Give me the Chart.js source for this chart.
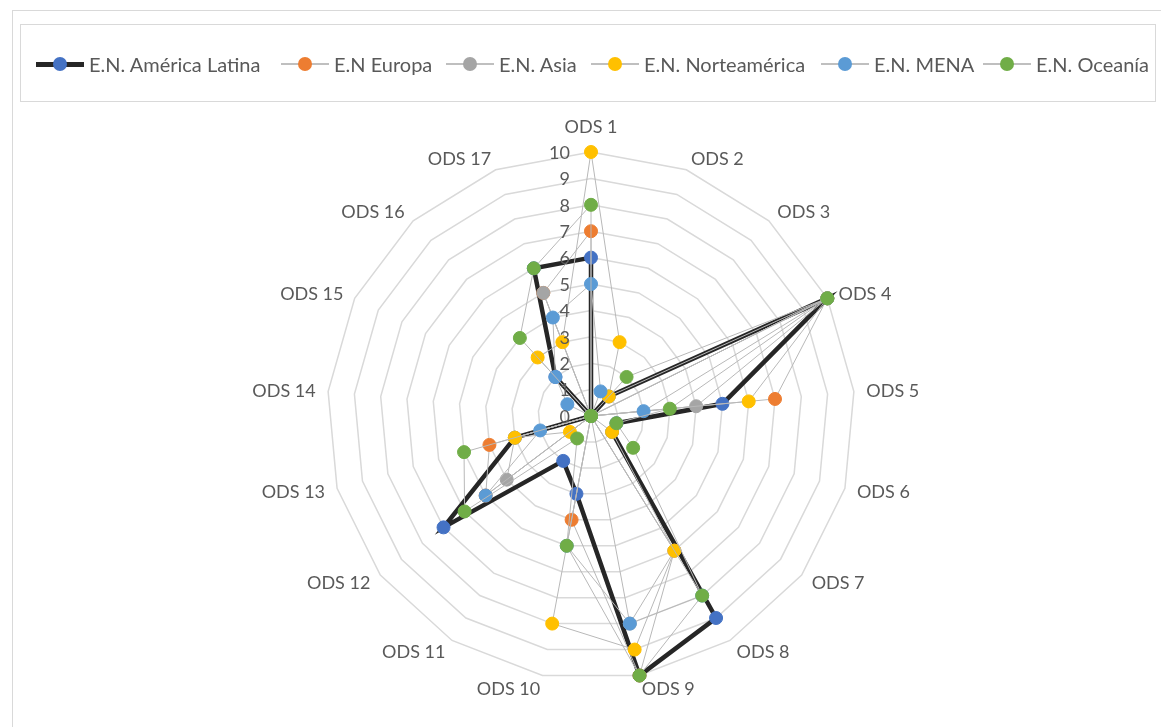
<!DOCTYPE html>
<html>
<head>
<meta charset="utf-8">
<script src="https://cdn.jsdelivr.net/npm/chart.js@4.4.1/dist/chart.umd.min.js"></script>
<style>
  html, body { margin: 0; padding: 0; background: #fff; }
  #wrap { position: relative; width: 1161px; height: 727px; overflow: hidden; }
  #frame { position: absolute; left: 12px; top: 10px; width: 1200px; height: 800px;
           border-left: 1.5px solid #D9D9D9; border-top: 1.5px solid #D9D9D9; }
  #legend { position: absolute; left: 20px; top: 24px; width: 1136px; height: 78px;
            border: 1.5px solid #D9D9D9; box-sizing: border-box; }
  .item { position: absolute; top: 27px; height: 24px; display: flex; align-items: center;
          font: 20px Lato, sans-serif; color: #595959; white-space: nowrap; }
  .mk { position: relative; width: 48px; height: 14px; margin-right: 5px; flex: none; }
  .mk .ln { position: absolute; left: 0; right: 0; top: 6px; height: 1.5px; background: #BFBFBF; }
  .mk .ln.big { top: 4.5px; height: 5px; background: #262626; }
  .mk .dot { position: absolute; left: 17px; top: 0; width: 14px; height: 14px; border-radius: 50%; }
  canvas { position: absolute; left: 0; top: 0; }
</style>
</head>
<body>
<div id="wrap">
  <div id="frame"></div>
  <canvas id="radar" width="1161" height="727"></canvas>
  <div id="legend"></div>
</div>
<script>
// categories round the radar
var categories = ["ODS 1", "ODS 2", "ODS 3", "ODS 4", "ODS 5", "ODS 6", "ODS 7", "ODS 8", "ODS 9",
                  "ODS 10", "ODS 11", "ODS 12", "ODS 13", "ODS 14", "ODS 15", "ODS 16", "ODS 17"];

// values (0 - 10)
var americaLatina = [6, 0, 1, 10, 5, 1, 1, 9, 10, 3, 2, 7, 3, 0, 0, 2, 6];
var europa        = [7, 0, 0, 10, 7, 0, 0, 6, 10, 4, 0, 5, 4, 0, 0, 0, 5];
var asia          = [0, 0, 0, 10, 4, 0, 0, 6, 8, 0, 0, 4, 3, 0, 0, 0, 5];
var norteamerica  = [10, 3, 1, 10, 6, 0, 1, 6, 9, 8, 0, 1, 3, 0, 0, 3, 3];
var mena          = [5, 1, 0, 10, 2, 0, 0, 8, 8, 5, 0, 5, 2, 0, 1, 2, 4];
var oceania       = [8, 0, 2, 10, 3, 1, 2, 8, 10, 5, 1, 6, 5, 0, 0, 4, 6];

var seriesNames = ["E.N. América Latina", "E.N Europa", "E.N. Asia", "E.N. Norteamérica", "E.N. MENA", "E.N. Oceanía"];
var tickValues = [0, 1, 2, 3, 4, 5, 6, 7, 8, 9, 10];
var tickLabels = ["0", "1", "2", "3", "4", "5", "6", "7", "8", "9", "10"];

var markerColors = ["#4472C4", "#ED7D31", "#A5A5A5", "#FFC000", "#5B9BD5", "#70AD47"];
var allValues = [americaLatina, europa, asia, norteamerica, mena, oceania];
var legendLeft = [35, 280, 445, 590, 820, 982];

var textColor = "#595959";
var labelFont = "18px Lato, sans-serif";

// Build the datasets; later series sit on top like in the original
var datasets = [];
for (var i = 0; i < allValues.length; i++) {
    var first = (i == 0);
    datasets.push({
        label: seriesNames[i],
        data: allValues[i],
        fill: false,
        borderColor: first ? "#262626" : "#B8B8B8",
        borderWidth: first ? 4.5 : 1,
        pointRadius: 6.5,
        pointBorderWidth: 1,
        pointBackgroundColor: markerColors[i],
        pointBorderColor: markerColors[i],
        order: allValues.length - i
    });
}

// Draws tick numbers and ODS labels with the radial scale's own positions
var labelPlugin = {
    id: "odsLabels",
    afterDraw: function(chart) {
        var s = chart.scales.r;
        var ctx = chart.ctx;
        ctx.save();
        ctx.font = labelFont;
        ctx.fillStyle = textColor;

        ctx.textAlign = "right";
        ctx.textBaseline = "middle";
        for (var t = 0; t < tickValues.length; t++) {
            var d = s.getDistanceFromCenterForValue(tickValues[t]);
            ctx.fillText(tickLabels[t], s.xCenter - 21, s.yCenter - d + 1);
        }

        for (var k = 0; k < categories.length; k++) {
            var angle = s.getIndexAngle(k);
            var p = s.getPointPosition(k, s.drawingArea + 12.5);
            var sin = Math.sin(angle);
            var y = p.y + 1;
            if (Math.abs(sin) < 0.05) {
                ctx.textAlign = "center";
                y = p.y - 12;
            } else if (sin > 0) {
                ctx.textAlign = "left";
            } else {
                ctx.textAlign = "right";
            }
            ctx.fillText(categories[k], p.x, y);
        }
        ctx.restore();
    }
};

var chart = new Chart(document.getElementById("radar"), {
    type: "radar",
    data: {
        labels: categories,
        datasets: datasets
    },
    options: {
        responsive: false,
        animation: false,
        layout: { padding: { left: 291, right: 270, top: 152, bottom: 46 } },
        elements: { line: { tension: 0 } },
        plugins: {
            legend: { display: false },
            tooltip: { enabled: false }
        },
        scales: {
            r: {
                min: 0,
                max: 10,
                ticks: { stepSize: 1, display: false },
                grid: { color: "#D9D9D9", lineWidth: 1.5 },
                angleLines: { display: false },
                pointLabels: { display: false }
            }
        }
    },
    plugins: [labelPlugin]
});

// HTML legend with the same line and marker look
var legend = document.getElementById("legend");
for (var j = 0; j < seriesNames.length; j++) {
    var item = document.createElement("div");
    item.className = "item";
    item.style.left = (legendLeft[j] - 20) + "px";
    var mk = document.createElement("div");
    mk.className = "mk";
    var ln = document.createElement("div");
    ln.className = j == 0 ? "ln big" : "ln";
    var dot = document.createElement("div");
    dot.className = "dot";
    dot.style.background = markerColors[j];
    mk.appendChild(ln);
    mk.appendChild(dot);
    item.appendChild(mk);
    var txt = document.createElement("span");
    txt.textContent = seriesNames[j];
    item.appendChild(txt);
    legend.appendChild(item);
}
</script>
</body>
</html>
